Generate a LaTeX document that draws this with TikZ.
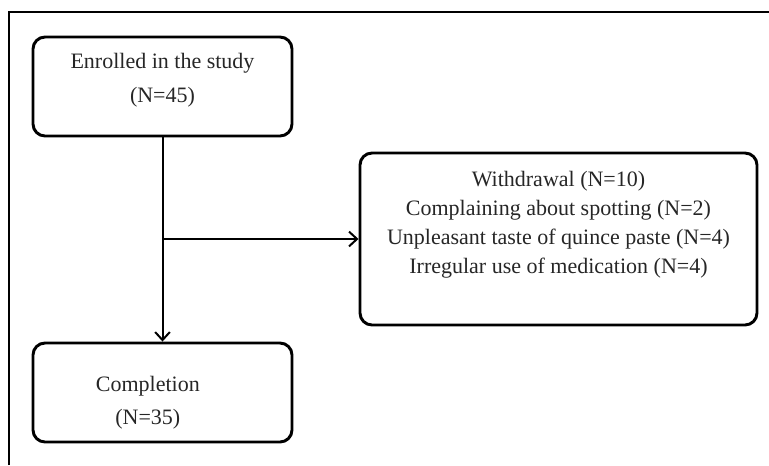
\documentclass[tikz,border=0pt]{standalone}
\usepackage{fontspec}
\setmainfont{Liberation Serif}
\usetikzlibrary{arrows.meta}

\begin{document}
\begin{tikzpicture}[x=0.75pt,y=-0.75pt,
        flow box/.style={
          draw, line width=2.2pt,
          rounded corners=9pt,
          align=center, inner sep=0pt,
          text=black!85,
      },
        flow arrow/.style={
          line width=1.5pt,
          -{Straight Barb[length=6pt,width=11pt,line width=1.5pt]},
      }]
      \useasboundingbox (0,0) rectangle (769,465);
      \draw[line width=1.5pt] (9,465) |- (769,12);
      \node[flow box, minimum width=194.25pt, minimum height=74.25pt,
        font=\fontsize{16.5}{25.5}\selectfont] (enrolled) at (162.5,86.5)
        {Enrolled in the study\\(N=45)\rule[-13.5pt]{0pt}{0pt}};
      \node[flow box, minimum width=297.75pt, minimum height=129pt,
        font=\fontsize{16.5}{21.6}\selectfont] (withdrawal) at (558.5,239)
        {Withdrawal (N=10)\\Complaining about spotting (N=2)\\
         Unpleasant taste of quince paste (N=4)\\Irregular use of medication (N=4)\rule[-25pt]{0pt}{0pt}};
      \node[flow box, minimum width=194.25pt, minimum height=74.25pt,
        font=\fontsize{16.5}{25}\selectfont] (completion) at (162.5,392.5)
        {\rule{0pt}{26.5pt}Completion\hspace*{22pt}\\(N=35)\hspace*{22pt}};
      \coordinate (branch) at (enrolled.south |- withdrawal.west);
      \draw[flow arrow] (enrolled) -- (completion);
      \draw[flow arrow] (branch) -- (withdrawal);
    \end{tikzpicture}
\end{document}
